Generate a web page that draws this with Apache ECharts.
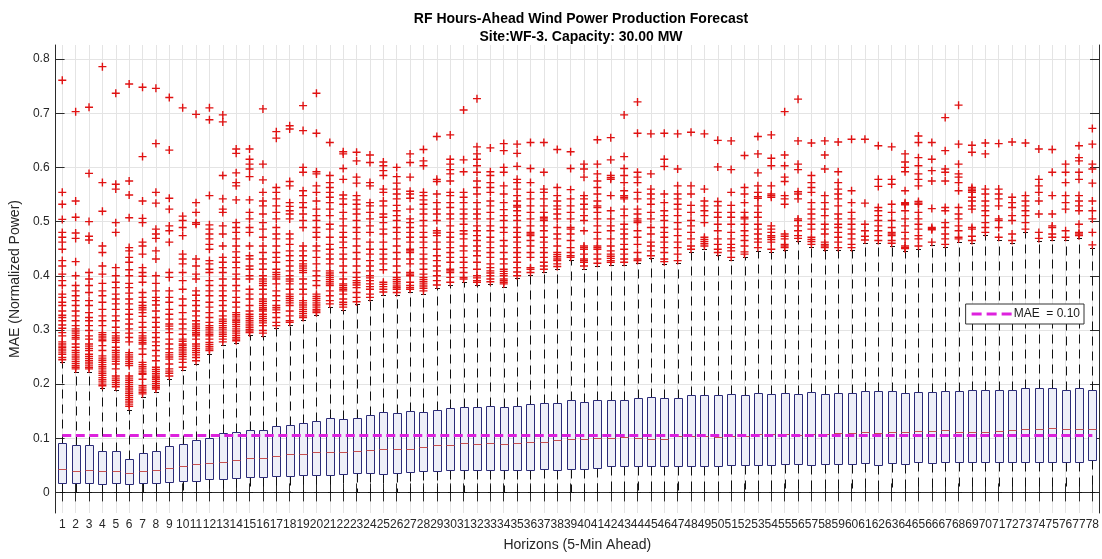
<!DOCTYPE html>
<html>
<head>
<meta charset="utf-8">
<script src="https://cdn.jsdelivr.net/npm/echarts@6/dist/echarts.min.js"></script>
<style>
  html, body { margin: 0; padding: 0; background: #fff; }
  #chart { width: 1102px; height: 559px; }
</style>
</head>
<body>
<div id="chart"></div>
<script>
// Forecast horizons (5-minute steps ahead)
const horizons = ['1','2','3','4','5','6','7','8','9','10','11','12','13','14','15','16','17','18','19','20',
  '21','22','23','24','25','26','27','28','29','30','31','32','33','34','35','36','37','38','39','40',
  '41','42','43','44','45','46','47','48','49','50','51','52','53','54','55','56','57','58','59','60',
  '61','62','63','64','65','66','67','68','69','70','71','72','73','74','75','76','77','78'];

const yTicks = [0, 0.1, 0.2, 0.3, 0.4, 0.5, 0.6, 0.7, 0.8];

// Box statistics per horizon (normalized power)
const whiskerLow = [0,0,0,0,0,0,0,0,0,0,0,0,0,0,0,0,0,0,0,0,0,0,0,0,0,0,0,0,0,0,0,0,0,0,0,0,0,0,0,0,
  0,0,0,0,0,0,0,0,0,0,0,0,0,0,0,0,0,0,0,0,0,0,0,0,0,0,0,0,0,0,0,0,0,0,0,0,0,0];
const q1 = [0.017,0.017,0.017,0.015,0.017,0.015,0.017,0.018,0.020,0.022,0.022,0.024,0.025,0.027,0.029,0.029,0.030,0.030,0.032,0.032,
  0.032,0.034,0.036,0.036,0.034,0.036,0.038,0.039,0.040,0.041,0.041,0.041,0.041,0.042,0.041,0.042,0.044,0.042,0.044,0.044,
  0.046,0.048,0.048,0.048,0.049,0.049,0.049,0.049,0.049,0.049,0.051,0.051,0.051,0.051,0.053,0.052,0.051,0.053,0.053,0.053,
  0.054,0.051,0.054,0.053,0.056,0.055,0.056,0.056,0.056,0.056,0.056,0.056,0.056,0.056,0.056,0.056,0.057,0.059];
const median = [0.043,0.040,0.042,0.039,0.040,0.035,0.039,0.041,0.045,0.049,0.052,0.054,0.057,0.060,0.064,0.064,0.067,0.071,0.071,0.074,
  0.074,0.074,0.076,0.079,0.080,0.080,0.080,0.084,0.087,0.088,0.092,0.090,0.092,0.090,0.092,0.094,0.094,0.096,0.098,0.098,
  0.100,0.101,0.102,0.100,0.098,0.098,0.105,0.105,0.105,0.103,0.105,0.105,0.107,0.108,0.108,0.106,0.107,0.107,0.109,0.110,
  0.111,0.110,0.111,0.111,0.113,0.113,0.115,0.111,0.111,0.111,0.113,0.115,0.117,0.117,0.119,0.117,0.117,0.118];
const q3 = [0.092,0.088,0.088,0.076,0.076,0.062,0.073,0.076,0.086,0.090,0.096,0.101,0.110,0.112,0.115,0.116,0.123,0.124,0.129,0.132,
  0.137,0.135,0.138,0.143,0.148,0.146,0.150,0.148,0.153,0.155,0.157,0.157,0.159,0.157,0.160,0.163,0.166,0.166,0.171,0.167,
  0.171,0.171,0.171,0.174,0.176,0.174,0.174,0.179,0.180,0.179,0.182,0.180,0.184,0.182,0.184,0.182,0.186,0.182,0.184,0.184,
  0.187,0.187,0.187,0.184,0.186,0.186,0.188,0.187,0.190,0.190,0.190,0.190,0.193,0.192,0.192,0.190,0.193,0.190];
const whiskerHigh = [0.240,0.222,0.222,0.192,0.190,0.152,0.177,0.186,0.210,0.226,0.238,0.256,0.273,0.275,0.290,0.289,0.303,0.309,0.318,0.327,
  0.343,0.337,0.347,0.355,0.365,0.364,0.370,0.367,0.378,0.383,0.389,0.383,0.384,0.380,0.395,0.401,0.407,0.412,0.429,0.413,
  0.418,0.420,0.420,0.423,0.432,0.421,0.423,0.444,0.450,0.438,0.429,0.435,0.446,0.443,0.447,0.464,0.453,0.447,0.447,0.447,
  0.461,0.460,0.455,0.445,0.450,0.457,0.453,0.463,0.460,0.475,0.466,0.460,0.481,0.464,0.466,0.466,0.469,0.452];

// Outliers per horizon
const outliers = [
  [0.761,0.554,0.532,0.504,0.480,0.471,0.462,0.449,0.428,0.418,0.403,0.391,0.382,0.366,0.360,0.351,0.345,0.335,0.327,0.323,0.317,0.309,0.303,0.295,0.289,0.278,0.274,0.270,0.267,0.263,0.259,0.255,0.249,0.245],
  [0.703,0.538,0.508,0.479,0.469,0.426,0.400,0.382,0.372,0.363,0.354,0.345,0.335,0.326,0.317,0.308,0.302,0.298,0.294,0.290,0.286,0.283,0.274,0.268,0.262,0.258,0.254,0.250,0.246,0.242,0.238,0.234,0.231,0.228],
  [0.711,0.589,0.500,0.473,0.466,0.406,0.394,0.382,0.369,0.354,0.345,0.332,0.323,0.317,0.308,0.299,0.289,0.283,0.274,0.270,0.266,0.262,0.255,0.251,0.247,0.243,0.239,0.235,0.231,0.228],
  [0.786,0.572,0.519,0.455,0.443,0.418,0.403,0.386,0.372,0.363,0.351,0.338,0.326,0.317,0.308,0.295,0.291,0.287,0.283,0.280,0.271,0.262,0.252,0.248,0.244,0.240,0.236,0.232,0.228,0.224,0.220,0.216,0.212,0.208,0.204,0.200,0.197],
  [0.737,0.569,0.560,0.498,0.480,0.415,0.400,0.388,0.378,0.366,0.357,0.348,0.338,0.326,0.317,0.305,0.295,0.289,0.285,0.281,0.277,0.268,0.262,0.258,0.254,0.250,0.246,0.242,0.237,0.228,0.215,0.211,0.207,0.203,0.199,0.195],
  [0.754,0.575,0.549,0.507,0.452,0.446,0.434,0.425,0.411,0.400,0.386,0.378,0.368,0.357,0.348,0.338,0.329,0.320,0.311,0.302,0.294,0.286,0.278,0.258,0.254,0.250,0.246,0.242,0.238,0.234,0.215,0.211,0.207,0.203,0.199,0.195,0.191,0.187,0.183,0.179,0.175,0.171,0.167,0.163,0.159],
  [0.748,0.620,0.538,0.506,0.498,0.462,0.455,0.440,0.415,0.406,0.399,0.388,0.369,0.360,0.351,0.345,0.341,0.337,0.332,0.325,0.314,0.305,0.295,0.289,0.285,0.281,0.277,0.274,0.265,0.255,0.240,0.236,0.232,0.228,0.224,0.220,0.218,0.209,0.197,0.193,0.189,0.185,0.182],
  [0.746,0.644,0.554,0.534,0.486,0.477,0.469,0.446,0.431,0.400,0.386,0.372,0.360,0.354,0.346,0.335,0.323,0.314,0.305,0.295,0.286,0.278,0.271,0.262,0.252,0.243,0.231,0.227,0.223,0.219,0.215,0.212,0.209,0.205,0.201,0.197,0.194,0.191],
  [0.729,0.632,0.543,0.523,0.492,0.483,0.462,0.406,0.397,0.372,0.360,0.351,0.338,0.329,0.320,0.311,0.307,0.302,0.295,0.283,0.274,0.265,0.258,0.254,0.250,0.246,0.237,0.228,0.224,0.220,0.215],
  [0.710,0.510,0.502,0.489,0.474,0.440,0.431,0.422,0.406,0.391,0.375,0.357,0.345,0.332,0.320,0.311,0.302,0.292,0.283,0.279,0.274,0.271,0.267,0.263,0.259,0.255,0.251,0.246,0.240,0.231],
  [0.698,0.535,0.517,0.498,0.495,0.431,0.418,0.403,0.394,0.372,0.364,0.354,0.345,0.335,0.326,0.317,0.311,0.307,0.303,0.299,0.295,0.292,0.289,0.283,0.274,0.270,0.266,0.262,0.258,0.254,0.249,0.243],
  [0.710,0.688,0.548,0.494,0.486,0.477,0.468,0.458,0.449,0.428,0.422,0.412,0.406,0.391,0.382,0.372,0.363,0.351,0.342,0.332,0.323,0.314,0.308,0.304,0.300,0.296,0.292,0.289,0.283,0.277,0.273,0.269,0.265,0.262],
  [0.697,0.684,0.585,0.542,0.523,0.517,0.492,0.477,0.455,0.434,0.425,0.415,0.406,0.394,0.382,0.372,0.363,0.354,0.345,0.335,0.326,0.320,0.316,0.312,0.308,0.304,0.300,0.296,0.292,0.288,0.283,0.278],
  [0.634,0.626,0.590,0.572,0.566,0.540,0.498,0.489,0.480,0.468,0.455,0.444,0.434,0.425,0.415,0.403,0.394,0.382,0.372,0.360,0.351,0.342,0.332,0.328,0.324,0.320,0.317,0.314,0.310,0.306,0.302,0.298,0.294,0.290,0.286,0.283,0.280],
  [0.634,0.615,0.606,0.597,0.583,0.540,0.517,0.505,0.489,0.480,0.455,0.437,0.431,0.418,0.412,0.400,0.394,0.375,0.366,0.357,0.345,0.335,0.329,0.325,0.321,0.317,0.313,0.309,0.305,0.301,0.298,0.295],
  [0.708,0.606,0.577,0.554,0.538,0.529,0.514,0.498,0.486,0.471,0.455,0.443,0.431,0.422,0.412,0.400,0.394,0.390,0.386,0.382,0.375,0.366,0.357,0.353,0.349,0.345,0.341,0.338,0.335,0.329,0.325,0.321,0.317,0.313,0.308,0.299,0.294],
  [0.666,0.654,0.563,0.554,0.542,0.529,0.517,0.505,0.489,0.477,0.468,0.455,0.443,0.434,0.425,0.412,0.406,0.402,0.398,0.394,0.385,0.372,0.363,0.354,0.345,0.341,0.337,0.332,0.323,0.314,0.308],
  [0.677,0.671,0.574,0.566,0.535,0.528,0.520,0.514,0.505,0.477,0.468,0.458,0.446,0.437,0.428,0.418,0.409,0.400,0.394,0.390,0.385,0.375,0.366,0.362,0.358,0.354,0.350,0.345,0.335,0.326,0.317,0.314],
  [0.714,0.668,0.600,0.591,0.557,0.548,0.535,0.526,0.514,0.502,0.489,0.455,0.446,0.437,0.428,0.422,0.418,0.414,0.410,0.406,0.394,0.385,0.375,0.366,0.354,0.350,0.346,0.342,0.338,0.334,0.330,0.326,0.323],
  [0.737,0.663,0.592,0.588,0.566,0.554,0.538,0.523,0.511,0.502,0.489,0.480,0.471,0.455,0.446,0.434,0.422,0.409,0.400,0.391,0.382,0.366,0.362,0.358,0.354,0.350,0.346,0.342,0.338,0.335,0.332],
  [0.646,0.585,0.572,0.563,0.554,0.545,0.535,0.523,0.511,0.495,0.486,0.471,0.458,0.449,0.440,0.431,0.422,0.409,0.405,0.401,0.397,0.393,0.389,0.385,0.382,0.372,0.363,0.354,0.348],
  [0.629,0.625,0.598,0.578,0.549,0.542,0.532,0.517,0.505,0.492,0.480,0.471,0.462,0.452,0.440,0.431,0.418,0.406,0.394,0.385,0.382,0.378,0.375,0.372,0.366,0.357,0.351,0.347,0.342],
  [0.628,0.612,0.582,0.571,0.548,0.540,0.532,0.523,0.514,0.502,0.489,0.480,0.468,0.455,0.443,0.431,0.418,0.406,0.397,0.391,0.387,0.383,0.378,0.369,0.360,0.352],
  [0.623,0.609,0.572,0.566,0.535,0.529,0.517,0.505,0.492,0.480,0.462,0.449,0.440,0.428,0.418,0.409,0.400,0.396,0.391,0.385,0.380,0.375,0.366,0.360],
  [0.610,0.603,0.594,0.585,0.560,0.554,0.538,0.529,0.514,0.508,0.498,0.486,0.477,0.462,0.449,0.440,0.431,0.422,0.411,0.388,0.384,0.380,0.375,0.370],
  [0.600,0.583,0.571,0.560,0.551,0.542,0.530,0.520,0.511,0.502,0.489,0.480,0.468,0.455,0.443,0.431,0.418,0.406,0.397,0.393,0.389,0.385,0.381,0.378,0.375,0.369],
  [0.625,0.609,0.582,0.556,0.551,0.543,0.523,0.505,0.498,0.489,0.480,0.471,0.462,0.449,0.446,0.443,0.431,0.422,0.406,0.403,0.400,0.388,0.382,0.378,0.375],
  [0.633,0.612,0.603,0.554,0.548,0.540,0.532,0.523,0.514,0.502,0.492,0.480,0.471,0.462,0.452,0.440,0.431,0.422,0.412,0.403,0.397,0.393,0.389,0.385,0.381,0.377,0.372],
  [0.657,0.578,0.574,0.551,0.535,0.523,0.514,0.502,0.483,0.479,0.474,0.462,0.449,0.437,0.428,0.418,0.409,0.400,0.391,0.383],
  [0.660,0.615,0.606,0.596,0.588,0.575,0.554,0.548,0.535,0.526,0.514,0.505,0.492,0.480,0.471,0.462,0.452,0.443,0.434,0.425,0.412,0.409,0.406,0.397,0.388],
  [0.706,0.614,0.592,0.554,0.545,0.535,0.523,0.514,0.505,0.495,0.483,0.477,0.468,0.455,0.446,0.434,0.425,0.415,0.406,0.397,0.394],
  [0.727,0.638,0.625,0.615,0.603,0.591,0.575,0.563,0.551,0.535,0.523,0.514,0.505,0.492,0.483,0.474,0.465,0.455,0.446,0.437,0.425,0.412,0.400,0.396,0.391,0.388],
  [0.636,0.592,0.585,0.572,0.563,0.554,0.538,0.529,0.517,0.505,0.492,0.483,0.471,0.462,0.452,0.443,0.434,0.422,0.415,0.409,0.405,0.400,0.394,0.389],
  [0.644,0.631,0.600,0.591,0.566,0.551,0.535,0.522,0.511,0.502,0.489,0.480,0.465,0.455,0.443,0.431,0.422,0.412,0.408,0.404,0.400,0.394,0.391,0.388,0.385],
  [0.643,0.626,0.602,0.578,0.572,0.560,0.548,0.538,0.530,0.527,0.520,0.511,0.502,0.489,0.480,0.471,0.462,0.452,0.443,0.434,0.425,0.415,0.407,0.400],
  [0.646,0.598,0.572,0.554,0.542,0.529,0.517,0.505,0.492,0.480,0.477,0.474,0.465,0.455,0.443,0.434,0.415,0.412,0.406],
  [0.646,0.591,0.560,0.554,0.542,0.529,0.517,0.508,0.505,0.502,0.492,0.483,0.471,0.462,0.452,0.443,0.434,0.425,0.418,0.412],
  [0.633,0.563,0.548,0.538,0.529,0.523,0.514,0.505,0.489,0.477,0.468,0.455,0.443,0.439,0.435,0.431,0.428,0.422,0.417],
  [0.629,0.598,0.559,0.542,0.529,0.517,0.505,0.489,0.486,0.477,0.465,0.452,0.443,0.437,0.434],
  [0.606,0.597,0.582,0.548,0.542,0.532,0.523,0.511,0.502,0.483,0.455,0.452,0.449,0.440,0.431,0.428,0.425,0.418],
  [0.651,0.606,0.588,0.575,0.563,0.551,0.538,0.529,0.526,0.517,0.505,0.492,0.480,0.468,0.455,0.452,0.449,0.440,0.431,0.423],
  [0.655,0.614,0.585,0.581,0.578,0.548,0.520,0.505,0.492,0.483,0.468,0.455,0.446,0.440,0.436,0.432,0.428,0.425],
  [0.697,0.620,0.598,0.585,0.572,0.557,0.548,0.545,0.542,0.523,0.511,0.495,0.486,0.477,0.468,0.458,0.449,0.440,0.431,0.425],
  [0.721,0.663,0.591,0.582,0.572,0.554,0.542,0.523,0.514,0.505,0.501,0.498,0.483,0.471,0.458,0.443,0.431,0.428],
  [0.662,0.588,0.560,0.551,0.542,0.532,0.517,0.505,0.489,0.477,0.462,0.455,0.446,0.437],
  [0.663,0.615,0.602,0.551,0.535,0.520,0.511,0.502,0.489,0.480,0.471,0.462,0.452,0.443,0.431,0.426],
  [0.662,0.597,0.566,0.551,0.542,0.532,0.523,0.511,0.498,0.486,0.474,0.462,0.452,0.440,0.428],
  [0.665,0.566,0.551,0.530,0.517,0.502,0.492,0.480,0.468,0.455,0.449],
  [0.662,0.560,0.538,0.529,0.520,0.511,0.498,0.471,0.467,0.463,0.459,0.455],
  [0.650,0.601,0.537,0.529,0.517,0.508,0.495,0.483,0.468,0.458,0.449,0.443],
  [0.649,0.596,0.554,0.530,0.517,0.508,0.495,0.480,0.468,0.458,0.452,0.446,0.434],
  [0.622,0.563,0.551,0.535,0.517,0.508,0.505,0.495,0.483,0.474,0.465,0.455,0.444,0.440],
  [0.657,0.625,0.590,0.566,0.554,0.546,0.543,0.529,0.517,0.508,0.495,0.486,0.477,0.468,0.462,0.452],
  [0.660,0.617,0.603,0.566,0.551,0.548,0.545,0.492,0.486,0.480,0.474,0.471,0.467,0.462,0.449],
  [0.703,0.623,0.603,0.582,0.574,0.548,0.542,0.532,0.477,0.473,0.468,0.458,0.455,0.452],
  [0.726,0.649,0.606,0.596,0.555,0.551,0.542,0.505,0.502,0.492,0.483,0.474,0.469],
  [0.645,0.585,0.572,0.563,0.554,0.535,0.523,0.514,0.505,0.495,0.486,0.471,0.467,0.463,0.458],
  [0.649,0.623,0.597,0.548,0.535,0.523,0.511,0.495,0.486,0.477,0.462,0.458,0.455,0.452],
  [0.647,0.592,0.572,0.560,0.551,0.542,0.529,0.514,0.505,0.495,0.489,0.480,0.471,0.462,0.452],
  [0.652,0.557,0.535,0.517,0.505,0.495,0.486,0.477,0.468,0.458,0.452],
  [0.652,0.534,0.495,0.483,0.473,0.466],
  [0.640,0.578,0.565,0.526,0.520,0.511,0.502,0.492,0.483,0.474,0.465],
  [0.638,0.578,0.569,0.532,0.517,0.502,0.489,0.480,0.477,0.474,0.465,0.460],
  [0.625,0.610,0.600,0.592,0.557,0.535,0.533,0.531,0.520,0.505,0.492,0.480,0.468,0.455,0.452,0.450],
  [0.658,0.646,0.618,0.603,0.588,0.578,0.566,0.537,0.534,0.532,0.517,0.505,0.495,0.486,0.474,0.468,0.455],
  [0.646,0.615,0.594,0.575,0.524,0.489,0.487,0.485,0.462],
  [0.692,0.631,0.597,0.591,0.575,0.526,0.520,0.498,0.489,0.477,0.468,0.458],
  [0.715,0.643,0.606,0.588,0.582,0.572,0.557,0.526,0.514,0.505,0.492,0.483,0.471,0.468],
  [0.641,0.628,0.563,0.560,0.557,0.554,0.545,0.538,0.529,0.523,0.489,0.486,0.473,0.465],
  [0.645,0.625,0.560,0.551,0.538,0.529,0.520,0.511,0.498,0.489,0.480],
  [0.644,0.560,0.551,0.542,0.529,0.505,0.502,0.489,0.471],
  [0.647,0.545,0.535,0.526,0.511,0.502,0.477,0.465],
  [0.645,0.548,0.538,0.529,0.520,0.511,0.498,0.486],
  [0.634,0.578,0.566,0.554,0.538,0.514,0.480,0.469],
  [0.633,0.591,0.548,0.514,0.492,0.489,0.477,0.471],
  [0.606,0.591,0.572,0.548,0.535,0.523,0.483,0.471],
  [0.640,0.618,0.612,0.591,0.578,0.548,0.538,0.529,0.520,0.495,0.480,0.477,0.474],
  [0.672,0.643,0.606,0.597,0.571,0.538,0.520,0.505,0.480,0.457]
];

// Mean absolute error reference level
const mae = 0.105;
const maeName = 'MAE  = ' + mae.toFixed(2);

const boxData = horizons.map((h, i) => [i, whiskerLow[i], q1[i], median[i], q3[i], whiskerHigh[i]]);
const outlierData = [];
outliers.forEach((vals, i) => vals.forEach(v => outlierData.push([i, v])));

const axisColor = '#2b2b2b';
const gridColor = '#e4e4e4';
// plus-shaped marker with slightly heavier arms
const plusPath = 'path://M3.3,0H4.7V3.3H8V4.7H4.7V8H3.3V4.7H0V3.3H3.3Z';
const dashIcon = 'path://M0,0H10V3H0Z M15,0H25V3H15Z M30,0H40V3H30Z';

function renderBox(params, api) {
  const i = api.value(0);
  const x = Math.round(api.coord([i, 0])[0]) + 0.5;
  const py = k => Math.round(api.coord([i, api.value(k)])[1]) + 0.5;
  const yLo = py(1), yQ1 = py(2), yMed = py(3), yQ3 = py(4), yHi = py(5);
  const half = 4, cap = 2.5;
  const dashed = { stroke: '#111', lineWidth: 1, lineDash: [9, 6], fill: null };
  const solid = { stroke: '#111', lineWidth: 1, fill: null };
  return {
    type: 'group',
    children: [
      { type: 'line', shape: { x1: x, y1: yQ3, x2: x, y2: yHi }, style: dashed },
      { type: 'line', shape: { x1: x, y1: yQ1, x2: x, y2: yLo }, style: dashed },
      { type: 'line', shape: { x1: x - cap, y1: yHi, x2: x + cap, y2: yHi }, style: solid },
      { type: 'line', shape: { x1: x - cap, y1: yLo, x2: x + cap, y2: yLo }, style: solid },
      { type: 'rect', shape: { x: x - half, y: yQ3, width: half * 2, height: yQ1 - yQ3 },
        style: { fill: '#eeeff8', stroke: '#2c2c78', lineWidth: 1 } },
      { type: 'line', shape: { x1: x - half, y1: yMed, x2: x + half, y2: yMed },
        style: { stroke: '#c85050', lineWidth: 1 } }
    ]
  };
}

const chart = echarts.init(document.getElementById('chart'), null, { renderer: 'canvas' });

chart.setOption({
  animation: false,
  backgroundColor: '#ffffff',
  textStyle: { fontFamily: '"Liberation Sans", Arial, Helvetica, sans-serif' },
  title: [
    { text: 'RF Hours-Ahead Wind Power Production Forecast', left: 576, top: 7, textAlign: 'center',
      textStyle: { fontSize: 14, fontWeight: 'bold', color: '#000' } },
    { text: 'Site:WF-3. Capacity: 30.00 MW', left: 576, top: 25, textAlign: 'center',
      textStyle: { fontSize: 14, fontWeight: 'bold', color: '#000' } }
  ],
  legend: {
    right: 18, top: 304,
    backgroundColor: '#ffffff', borderColor: '#333', borderWidth: 1, borderRadius: 0,
    padding: [4, 4, 4, 6],
    itemWidth: 40, itemHeight: 3, itemGap: 0,
    textStyle: { fontSize: 12, color: '#1a1a1a', padding: [0, 0, 0, -3] },
    data: [{ name: maeName, icon: dashIcon }]
  },
  grid: { left: 52, right: 2, top: 45, bottom: 46, containLabel: false },
  xAxis: [
    {
      type: 'category', data: horizons, position: 'bottom',
      name: 'Horizons (5-Min Ahead)', nameLocation: 'middle', nameGap: 25,
      nameTextStyle: { fontSize: 14, color: '#262626' },
      axisLine: { show: true, lineStyle: { color: axisColor } },
      axisTick: { show: true, inside: true, length: 9, alignWithLabel: true, interval: 0, lineStyle: { color: axisColor } },
      axisLabel: { interval: 0, fontSize: 12, color: '#262626', margin: 6 },
      splitLine: { show: true, alignWithLabel: true, interval: 0, lineStyle: { color: gridColor, width: 1 } }
    },
    {
      type: 'category', data: horizons, position: 'top',
      axisLine: { show: true, lineStyle: { color: axisColor } },
      axisTick: { show: true, inside: true, length: 9, alignWithLabel: true, interval: 0, lineStyle: { color: axisColor } },
      axisLabel: { show: false },
      splitLine: { show: false }
    }
  ],
  yAxis: [
    {
      type: 'value', min: -0.038, max: 0.826, position: 'left',
      name: 'MAE (Normalized Power)', nameLocation: 'middle', nameGap: 23,
      nameTextStyle: { fontSize: 14, color: '#262626' },
      axisLine: { show: true, lineStyle: { color: axisColor } },
      axisTick: { show: true, inside: true, length: 9, customValues: yTicks, lineStyle: { color: axisColor } },
      axisLabel: { customValues: yTicks, fontSize: 12, color: '#262626', margin: 6,
        formatter: v => (v === 0 ? '0' : v.toFixed(1)) },
      splitLine: { show: true, lineStyle: { color: gridColor, width: 1 } }
    },
    {
      type: 'value', min: -0.038, max: 0.826, position: 'right',
      axisLine: { show: true, lineStyle: { color: axisColor } },
      axisTick: { show: true, inside: true, length: 9, customValues: yTicks, lineStyle: { color: axisColor } },
      axisLabel: { show: false, customValues: yTicks },
      splitLine: { show: false }
    }
  ],
  series: [
    {
      type: 'custom', name: 'box', xAxisIndex: 0, yAxisIndex: 0, z: 2, silent: true,
      renderItem: renderBox,
      encode: { x: 0, y: [1, 2, 3, 4, 5] },
      data: boxData
    },
    {
      type: 'scatter', name: 'outliers', xAxisIndex: 0, yAxisIndex: 0, z: 3, silent: true,
      symbol: plusPath, symbolSize: 8,
      itemStyle: { color: '#e01212', opacity: 1 },
      data: outlierData
    },
    {
      type: 'line', name: maeName, xAxisIndex: 0, yAxisIndex: 0, z: 4, silent: true,
      symbol: 'none', color: '#dd22dd',
      lineStyle: { color: '#dd22dd', width: 3, type: [9, 4.5] },
      data: [[0, mae], [horizons.length - 1, mae]]
    }
  ]
});
</script>
</body>
</html>
